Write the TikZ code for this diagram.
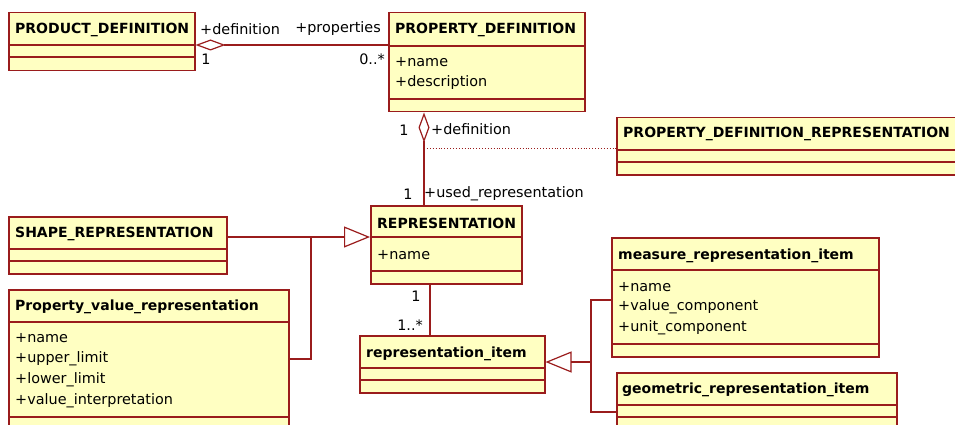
\documentclass[tikz,border=0pt]{standalone}
\usepackage{fontspec}
\setmainfont{DejaVu Sans}
\usetikzlibrary{arrows.meta}
\definecolor{umlline}{HTML}{9A1C1C}
\definecolor{umlfill}{HTML}{FFFFC2}
\tikzset{
  cls/.style={draw=umlline, fill=umlfill, line width=1.5pt, inner sep=0pt,
              anchor=north west},
  clsline/.style={draw=umlline, line width=1.3pt},
  title/.style={font=\fontsize{14}{16}\selectfont\bfseries, inner sep=0pt, anchor=west},
  attr/.style={font=\fontsize{14.4}{16}\selectfont, inner sep=0pt, anchor=west},
  role/.style={font=\fontsize{14.4}{16}\selectfont, inner sep=0pt},
  assoc/.style={draw=umlline, line width=1.2pt},
  aggr/.style={assoc, {Diamond[open, length=30pt, width=11pt]}-},
  gen/.style={assoc, -{Triangle[open, length=26pt, width=21pt]}},
  assocclass/.style={draw=umlline, line width=0.9pt, dotted},
}

\begin{document}
\begin{tikzpicture}[x=1pt, y=-1pt]
    \useasboundingbox (0,0) rectangle (955,425);
    \clip (0,0) rectangle (955,425);
    % class boxes
    \node[cls, minimum width=186pt, minimum height=58pt] (pd) at (8,12) {};
    \node[cls, minimum width=196pt, minimum height=99pt] (pdef) at (388,12) {};
    \node[cls, minimum width=360pt, minimum height=57pt] (pdr) at (616,117) {};
    \node[cls, minimum width=218pt, minimum height=57pt] (sr) at (8,216) {};
    \node[cls, minimum width=151pt, minimum height=78pt] (rep) at (370,205) {};
    \node[cls, minimum width=280pt, minimum height=150pt] (pvr) at (8,289) {};
    \node[cls, minimum width=185pt, minimum height=57pt] (ri) at (359,335) {};
    \node[cls, minimum width=267pt, minimum height=119pt] (mri) at (611,237) {};
    \node[cls, minimum width=280pt, minimum height=70pt] (gri) at (616,372) {};
    % compartments
    \draw[clsline] (8,45) -- (194,45) (8,57) -- (194,57);
    \draw[clsline] (388,46) -- (584,46) (388,99) -- (584,99);
    \draw[clsline] (616,150) -- (976,150) (616,162) -- (976,162);
    \draw[clsline] (8,249) -- (226,249) (8,261) -- (226,261);
    \draw[clsline] (370,237) -- (521,237) (370,271) -- (521,271);
    \draw[clsline] (8,322) -- (288,322) (8,417) -- (288,417);
    \draw[clsline] (359,368) -- (544,368) (359,380) -- (544,380);
    \draw[clsline] (611,270) -- (878,270) (611,344) -- (878,344);
    \draw[clsline] (616,405) -- (896,405) (616,417) -- (896,417);
    % titles
    \node[title] (pd-t) at (15,30) {PRODUCT\_DEFINITION};
    \node[title] (pdef-t) at (395,30) {PROPERTY\_DEFINITION};
    \node[title] (pdr-t) at (623,134) {PROPERTY\_DEFINITION\_REPRESENTATION};
    \node[title] (sr-t) at (15,234) {SHAPE\_REPRESENTATION};
    \node[title] (rep-t) at (377,223) {REPRESENTATION};
    \node[title] (pvr-t) at (15,307) {Property\_value\_representation};
    \node[title] (ri-t) at (366,354) {representation\_item};
    \node[title] (mri-t) at (618,256) {measure\_representation\_item};
    \node[title] (gri-t) at (622,390) {geometric\_representation\_item};
    % attributes
    \node[attr] (pdef-a1) at (395,62) {+name};
    \node[attr] (pdef-a2) at (395,83) {+description};
    \node[attr] (rep-a1) at (377,255) {+name};
    \node[attr] (pvr-a1) at (15,338) {+name};
    \node[attr] (pvr-a2) at (15,359) {+upper\_limit};
    \node[attr] (pvr-a3) at (15,380) {+lower\_limit};
    \node[attr] (pvr-a4) at (15,401) {+value\_interpretation};
    \node[attr] (mri-a1) at (618,287) {+name};
    \node[attr] (mri-a2) at (618,307) {+value\_component};
    \node[attr] (mri-a3) at (618,328) {+unit\_component};
    % associations
    \draw[aggr] (pd.north east |- 0,45) -- (pdef.north west |- 0,45);
    \node[role, anchor=west] (r-def1) at (200,29) {+definition};
    \node[role, anchor=east] (r-prop) at (381,29) {+properties};
    \node[role] (m-pd) at (206,59) {1};
    \node[role, anchor=east] (m-pdef) at (385,59) {0..*};
    \draw[aggr] (pdef.south -| 424,0) -- (rep.north -| 424,0);
    \node[role] (m-pdef2) at (404,130) {1};
    \node[role, anchor=west] (r-def2) at (431,129) {+definition};
    \node[role] (m-rep) at (408,194) {1};
    \node[role, anchor=west] (r-used) at (424,194) {+used\_representation};
    \coordinate (ac) at (424,148);
    \draw[assocclass] (ac) -- (ac -| pdr.west);
    \draw[assoc] (rep.south -| 430,0) -- (ri.north -| 430,0);
    \node[role] (m-rep2) at (416,296) {1};
    \node[role, anchor=east] (m-ri) at (423,325) {1..*};
    % generalizations
    \coordinate (j1) at (311,237);
    \draw[gen] (sr.east |- j1) -- (rep.west |- j1);
    \draw[assoc] (pvr.east |- 0,359) -| (j1);
    \coordinate (j2) at (591,362);
    \draw[gen] (j2) -- (ri.east |- j2);
    \draw[assoc] (mri.west |- 0,300) -| (j2);
    \draw[assoc] (gri.west |- 0,412) -| (j2);
\end{tikzpicture}
\end{document}
